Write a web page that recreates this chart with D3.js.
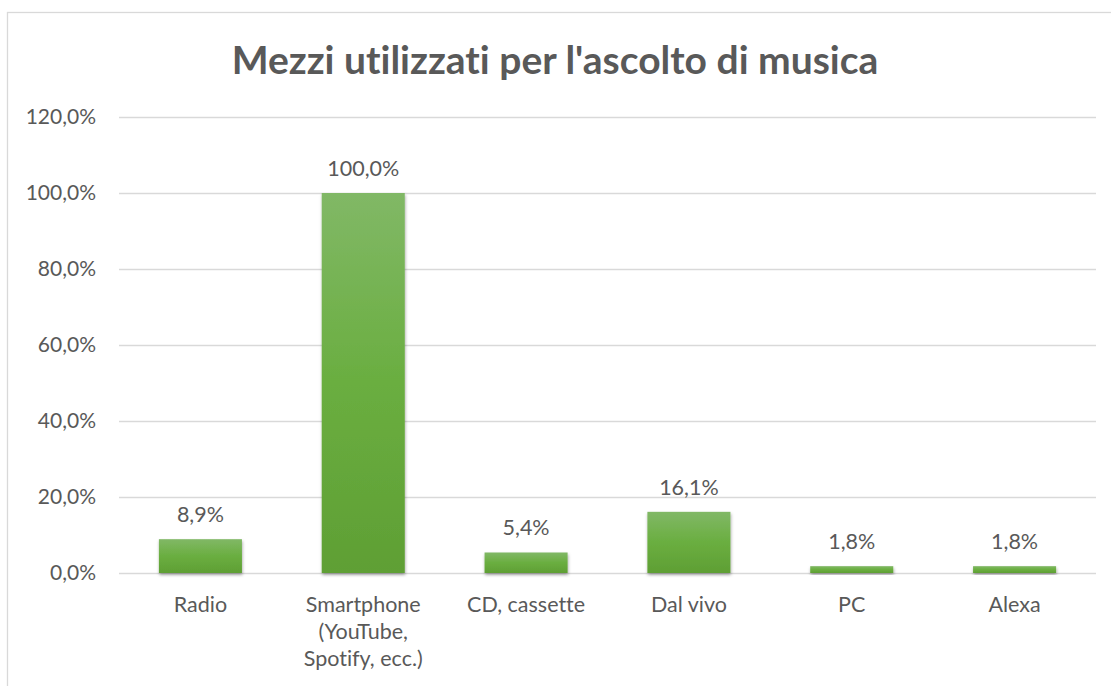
<!DOCTYPE html>
<html>
<head>
<meta charset="utf-8">
<script src="https://cdn.jsdelivr.net/npm/d3@7"></script>
<style>
  html, body { margin: 0; padding: 0; background: #ffffff; }
  svg { display: block; }
  text { font-family: Lato, "Open Sans", "Noto Sans", sans-serif; fill: #595959; font-variant-ligatures: none; }
</style>
</head>
<body>
<svg id="chart" width="1111" height="686"></svg>
<script>
// Share of respondents using each medium to listen to music (%)
const categories = [
  ["Radio"],
  ["Smartphone", "(YouTube,", "Spotify, ecc.)"],
  ["CD, cassette"],
  ["Dal vivo"],
  ["PC"],
  ["Alexa"]
];
const values = [8.9, 100.0, 5.4, 16.1, 1.8, 1.8];
const yTicks = [0, 20, 40, 60, 80, 100, 120];
const title = "Mezzi utilizzati per l'ascolto di musica";

const svg = d3.select("#chart");
const W = 1111, H = 686;
const margin = { top: 117, right: 15, bottom: 113, left: 119 };
const plotW = W - margin.left - margin.right;
const plotH = H - margin.top - margin.bottom;

const fmt = v => v.toFixed(1).replace(".", ",") + "%";

// Chart frame (extends past the visible window on the right and bottom)
svg.append("rect")
  .attr("x", 7.5).attr("y", 12.5)
  .attr("width", 1300).attr("height", 900)
  .attr("fill", "#ffffff")
  .attr("stroke", "#d9d9d9").attr("stroke-width", 1.3);

const defs = svg.append("defs");
const grad = defs.append("linearGradient")
  .attr("id", "barFill").attr("x1", 0).attr("y1", 0).attr("x2", 0).attr("y2", 1);
grad.append("stop").attr("offset", "0%").attr("stop-color", "#81b866");
grad.append("stop").attr("offset", "50%").attr("stop-color", "#6aae40");
grad.append("stop").attr("offset", "100%").attr("stop-color", "#5f9f34");

const shadow = defs.append("filter").attr("id", "barShadow")
  .attr("x", "-20%").attr("y", "-20%").attr("width", "140%").attr("height", "140%");
shadow.append("feDropShadow")
  .attr("dx", 0.5).attr("dy", 2).attr("stdDeviation", 1.6)
  .attr("flood-color", "#000000").attr("flood-opacity", 0.35);

const g = svg.append("g").attr("transform", `translate(${margin.left},${margin.top})`);

const x = d3.scaleBand()
  .domain(d3.range(categories.length))
  .range([0, plotW])
  .paddingInner(0.49)
  .paddingOuter(0.245);

const y = d3.scaleLinear().domain([0, 120]).range([plotH, 0]);

// Horizontal gridlines and percentage tick labels
const yAxis = d3.axisLeft(y)
  .tickValues(yTicks)
  .tickSize(-plotW)
  .tickPadding(23)
  .tickFormat(fmt);

const yg = g.append("g").call(yAxis);
yg.select(".domain").remove();
yg.selectAll(".tick line").attr("stroke", "#d9d9d9").attr("stroke-width", 1.3);
yg.selectAll(".tick text")
  .attr("font-size", 21)
  .attr("fill", "#595959")
  .style("font-family", "Lato, 'Open Sans', sans-serif");

// Bars
g.selectAll("rect.bar")
  .data(values)
  .join("rect")
  .attr("class", "bar")
  .attr("x", (d, i) => x(i))
  .attr("width", x.bandwidth())
  .attr("y", d => y(d))
  .attr("height", d => y(0) - y(d))
  .attr("fill", "url(#barFill)")
  .attr("filter", "url(#barShadow)");

// Value labels above bars
g.selectAll("text.val")
  .data(values)
  .join("text")
  .attr("class", "val")
  .attr("x", (d, i) => x(i) + x.bandwidth() / 2)
  .attr("y", d => y(d) - 17)
  .attr("text-anchor", "middle")
  .attr("font-size", 21.5)
  .text(d => fmt(d));

// Category labels (multi-line)
const xg = g.append("g").attr("transform", `translate(0,${plotH})`);
categories.forEach((lines, i) => {
  const t = xg.append("text")
    .attr("x", x(i) + x.bandwidth() / 2)
    .attr("y", 39)
    .attr("text-anchor", "middle")
    .attr("font-size", 21.5);
  lines.forEach((ln, k) => {
    t.append("tspan")
      .attr("x", x(i) + x.bandwidth() / 2)
      .attr("dy", k === 0 ? 0 : 27)
      .text(ln);
  });
});

// Title
svg.append("text")
  .attr("x", 555)
  .attr("y", 74)
  .attr("text-anchor", "middle")
  .attr("font-size", 39)
  .attr("font-weight", "bold")
  .text(title);
</script>
</body>
</html>
